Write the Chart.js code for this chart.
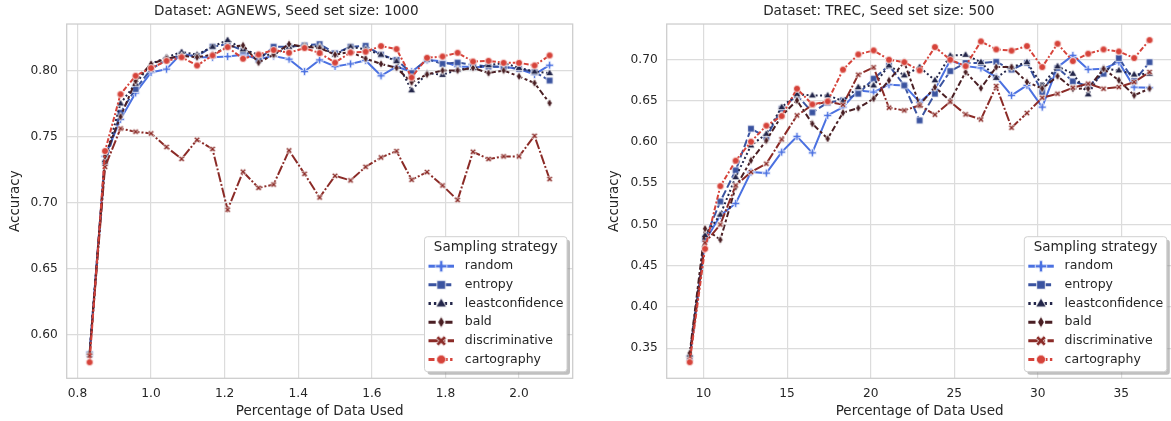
<!DOCTYPE html>
<html><head><meta charset="utf-8">
<script src="https://cdn.jsdelivr.net/npm/chart.js@4.4.1/dist/chart.umd.min.js"></script>
<style>
html,body{margin:0;padding:0;background:#fff;overflow:hidden;width:1171px;height:421px;}
#w1{position:absolute;left:0;top:0;width:585px;height:421px;}
#w2{position:absolute;left:585px;top:0;width:600px;height:421px;}
</style></head><body>
<div id="w1"><canvas id="c1" width="585" height="421"></canvas></div>
<div id="w2"><canvas id="c2" width="600" height="421"></canvas></div>
<script>
// ---------- DATA ----------
const seriesNames = ['random','entropy','leastconfidence','bald','discriminative','cartography'];

// AGNEWS, seed 1000 : percentage of data used
const agnewsX = [0.833,0.875,0.917,0.958,1.000,1.042,1.083,1.125,1.167,1.208,1.250,1.292,1.333,1.375,1.417,1.458,1.500,1.542,1.583,1.625,1.667,1.708,1.750,1.792,1.833,1.875,1.917,1.958,2.000,2.042,2.083];
const agnewsRandom = [0.586,0.735,0.763,0.783,0.7985,0.801,0.813,0.810,0.810,0.8106,0.812,0.8086,0.811,0.8086,0.7992,0.808,0.803,0.805,0.8076,0.796,0.803,0.799,0.808,0.807,0.803,0.8026,0.8026,0.803,0.801,0.797,0.804];
const agnewsEntropy = [0.585,0.730,0.768,0.786,0.801,0.808,0.812,0.811,0.818,0.820,0.815,0.808,0.818,0.818,0.819,0.820,0.813,0.818,0.8187,0.812,0.808,0.798,0.8086,0.805,0.806,0.8043,0.803,0.8026,0.8013,0.7988,0.7924];
const agnewsLeastconf = [0.586,0.732,0.775,0.790,0.805,0.810,0.814,0.812,0.818,0.823,0.816,0.812,0.812,0.818,0.819,0.818,0.812,0.818,0.816,0.812,0.807,0.785,0.798,0.7967,0.8005,0.8018,0.804,0.8056,0.802,0.7992,0.798];
const agnewsBald = [0.585,0.735,0.765,0.792,0.805,0.809,0.811,0.810,0.812,0.818,0.819,0.806,0.812,0.820,0.818,0.817,0.812,0.814,0.809,0.805,0.802,0.791,0.797,0.800,0.800,0.802,0.798,0.800,0.7955,0.7905,0.7753];
const agnewsDiscrim = [0.584,0.727,0.756,0.7536,0.7523,0.742,0.733,0.7475,0.7405,0.6945,0.7233,0.7111,0.7136,0.7394,0.7217,0.7038,0.7202,0.7167,0.727,0.7341,0.7389,0.7172,0.723,0.7129,0.7018,0.7384,0.7329,0.7349,0.7349,0.7505,0.7177];
const agnewsCarto = [0.579,0.739,0.782,0.796,0.8018,0.8073,0.810,0.8038,0.8114,0.8177,0.8089,0.8121,0.8155,0.8134,0.817,0.8132,0.806,0.8136,0.8142,0.8185,0.8162,0.7947,0.8096,0.8106,0.8134,0.8068,0.8073,0.8058,0.8058,0.8038,0.8114];

// TREC, seed 500 : percentage of data used
const trecX = [9.171,10.088,11.005,11.922,12.839,13.756,14.674,15.591,16.508,17.425,18.342,19.259,20.176,21.093,22.010,22.927,23.845,24.762,25.679,26.596,27.513,28.430,29.347,30.264,31.181,32.098,33.015,33.933,34.850,35.767,36.684];
const trecRandom = [0.340,0.480,0.511,0.5256,0.5636,0.5624,0.5879,0.6069,0.587,0.6324,0.6425,0.6627,0.6607,0.6697,0.6688,0.6485,0.664,0.6992,0.6922,0.690,0.6789,0.6567,0.6688,0.6425,0.691,0.7052,0.6882,0.689,0.697,0.6667,0.666];
const trecEntropy = [0.338,0.483,0.528,0.5657,0.6163,0.606,0.6405,0.657,0.636,0.648,0.6506,0.6587,0.677,0.693,0.6688,0.6263,0.6587,0.6862,0.696,0.696,0.6975,0.688,0.6963,0.6607,0.690,0.6737,0.668,0.683,0.702,0.674,0.697];
const trecLeastconf = [0.342,0.487,0.512,0.5575,0.596,0.610,0.6425,0.658,0.6567,0.6567,0.650,0.6667,0.6688,0.693,0.681,0.691,0.675,0.705,0.706,0.697,0.678,0.691,0.697,0.669,0.692,0.683,0.658,0.689,0.687,0.682,0.683];
const trecBald = [0.344,0.495,0.4815,0.5454,0.5778,0.602,0.632,0.6506,0.6223,0.6041,0.6357,0.6413,0.6527,0.6749,0.697,0.645,0.6667,0.650,0.685,0.6655,0.691,0.691,0.673,0.665,0.680,0.6648,0.665,0.689,0.675,0.6567,0.665];
const trecDiscrim = [0.336,0.478,0.500,0.5475,0.5636,0.5738,0.6033,0.6324,0.645,0.649,0.6454,0.6818,0.6907,0.6417,0.6385,0.6445,0.6333,0.649,0.6336,0.6275,0.668,0.6175,0.6352,0.6539,0.6587,0.666,0.6709,0.6648,0.6668,0.6728,0.685];
const trecCarto = [0.333,0.4706,0.5466,0.5774,0.6005,0.620,0.6316,0.6648,0.6458,0.6494,0.6879,0.7064,0.7113,0.700,0.697,0.687,0.7153,0.700,0.6922,0.7222,0.7125,0.711,0.7165,0.691,0.7194,0.6983,0.7073,0.7125,0.710,0.702,0.7238];

// ---------- STYLE ----------
Chart.defaults.font.family = '"DejaVu Sans", sans-serif';
Chart.defaults.color = '#262626';
const TXT = '#262626';
const COLORS = ['#4b71e1','#3a53a0','#23264a','#4a1f24','#8b2b27','#d6433a'];
const DASHES = [[], [8,3], [2,2.5], [6,2.5,3,2.5], [10,2,2,2], [5,2,2,2]];
const orders = [5,4,3,2,1,0];

// marker images (seaborn-like filled markers with a thin white edge)
function markerCanvas(kind, color, s){
  const size = Math.ceil(12*s)+2;
  const c = document.createElement('canvas');
  c.width = size; c.height = size;
  const g = c.getContext('2d');
  g.translate(size/2, size/2);
  g.beginPath();
  if (kind==='plus' || kind==='x'){
    if (kind==='x') g.rotate(Math.PI/4);
    const a = (kind==='x'?4.3:4.4)*s, b = (kind==='x'?1.3:1.3)*s;
    g.moveTo(-b,-a); g.lineTo(b,-a); g.lineTo(b,-b); g.lineTo(a,-b); g.lineTo(a,b); g.lineTo(b,b);
    g.lineTo(b,a); g.lineTo(-b,a); g.lineTo(-b,b); g.lineTo(-a,b); g.lineTo(-a,-b); g.lineTo(-b,-b); g.closePath();
  } else if (kind==='square'){
    const a=3.3*s; g.rect(-a,-a,2*a,2*a);
  } else if (kind==='tri'){
    const a=4.3*s; g.moveTo(0,-a); g.lineTo(a*0.95,a*0.6); g.lineTo(-a*0.95,a*0.6); g.closePath();
  } else if (kind==='diamond'){
    const w=2.6*s, h=4.4*s; g.moveTo(0,-h); g.lineTo(w,0); g.lineTo(0,h); g.lineTo(-w,0); g.closePath();
  } else if (kind==='circle'){
    g.arc(0,0,3.5*s,0,Math.PI*2);
  }
  g.fillStyle = color; g.fill();
  g.strokeStyle = '#ffffff'; g.lineWidth = 0.8; g.stroke();
  return c;
}
const KINDS = ['plus','square','tri','diamond','x','circle'];
const POINT_SCALE = [0.9,1,1,1,0.78,1];
const pointImgs = KINDS.map((k,i)=>markerCanvas(k, COLORS[i], POINT_SCALE[i]));
const legendImgs = KINDS.map((k,i)=>markerCanvas(k, COLORS[i], 1.3));

function roundRect(ctx,x,y,w,h,r){
  ctx.beginPath();
  ctx.moveTo(x+r,y); ctx.lineTo(x+w-r,y); ctx.quadraticCurveTo(x+w,y,x+w,y+r);
  ctx.lineTo(x+w,y+h-r); ctx.quadraticCurveTo(x+w,y+h,x+w-r,y+h);
  ctx.lineTo(x+r,y+h); ctx.quadraticCurveTo(x,y+h,x,y+h-r);
  ctx.lineTo(x,y+r); ctx.quadraticCurveTo(x,y,x+r,y); ctx.closePath();
}

const framePlugin = {
  id:'frame',
  beforeDatasetsDraw(chart){
    const {ctx, chartArea:a} = chart;
    ctx.save(); ctx.strokeStyle='#cccccc'; ctx.lineWidth=1.25;
    ctx.strokeRect(a.left, a.top, a.right-a.left, a.bottom-a.top); ctx.restore();
  }
};

const legendPlugin = {
  id:'boxLegend',
  afterDraw(chart){
    const {ctx, chartArea:a} = chart;
    const w=142.5, h=135;
    const x=a.right-5.7-w, y=a.bottom-6.6-h;
    ctx.save();
    roundRect(ctx,x+3,y+3,w,h,3); ctx.fillStyle='rgba(140,140,140,0.55)'; ctx.fill();
    roundRect(ctx,x,y,w,h,3); ctx.fillStyle='#ffffff'; ctx.fill();
    ctx.strokeStyle='#d0d0d0'; ctx.lineWidth=1; ctx.stroke();
    ctx.fillStyle=TXT; ctx.font='13.5px "DejaVu Sans"'; ctx.textAlign='center'; ctx.textBaseline='middle';
    ctx.fillText('Sampling strategy', x+w/2, y+10.8);
    chart.data.datasets.forEach((ds,i)=>{
      const yy = y+29.5+i*18.66;
      ctx.save(); ctx.strokeStyle=ds.borderColor; ctx.lineWidth=3; ctx.setLineDash(DASHES[i].map(v=>v*1.2));
      ctx.beginPath(); ctx.moveTo(x+4,yy); ctx.lineTo(x+29.5,yy); ctx.stroke(); ctx.restore();
      const im = legendImgs[i];
      ctx.drawImage(im, x+16.7-im.width/2, yy-im.height/2);
      ctx.fillStyle=TXT; ctx.font='12.5px "DejaVu Sans"'; ctx.textAlign='left'; ctx.textBaseline='middle';
      ctx.fillText(ds.label, x+40.3, yy);
    });
    ctx.restore();
  }
};

function makeChart(id, xs, series, cfg){
  const datasets = series.map((vals,i)=>({
    label: seriesNames[i],
    data: xs.map((x,j)=>({x:x, y:vals[j]})),
    borderColor: COLORS[i], borderWidth: 2, borderDash: DASHES[i],
    pointStyle: pointImgs[i], pointRadius: 4,
    backgroundColor: COLORS[i],
    tension: 0, fill: false, order: orders[i]
  }));
  return new Chart(document.getElementById(id), {
    type:'line',
    data:{datasets},
    plugins:[framePlugin, legendPlugin],
    options:{
      responsive:false, animation:false, events:[],
      layout:{padding:{left:0,right:cfg.rightPad,top:0,bottom:0}},
      plugins:{
        legend:{display:false}, tooltip:{enabled:false},
        title:{display:true, text:cfg.title, color:TXT, font:{size:13.6, weight:'normal', family:'"DejaVu Sans"'}, padding:{top:3.4,bottom:4.3}}
      },
      scales:{
        x:{type:'linear', min:cfg.xmin, max:cfg.xmax,
          grid:{color:'#dcdcdc', lineWidth:1.2, drawTicks:false},
          border:{display:false},
          ticks:{stepSize:cfg.xstep, includeBounds:false, padding:8, color:TXT, font:{size:12.2},
            callback:(v)=>v.toFixed(cfg.xdec), maxRotation:0, autoSkip:false},
          title:{display:true, text:'Percentage of Data Used', color:TXT, font:{size:13.5}, padding:{top:0,bottom:1}},
          afterFit:(s)=>{s.height=42.7;}
        },
        y:{type:'linear', min:cfg.ymin, max:cfg.ymax,
          grid:{color:'#dcdcdc', lineWidth:1.2, drawTicks:false},
          border:{display:false},
          ticks:{stepSize:0.05, includeBounds:false, padding:9, color:TXT, font:{size:12.2},
            callback:(v)=>v.toFixed(2), autoSkip:false},
          title:{display:true, text:'Accuracy', color:TXT, font:{size:13.5}, padding:{top:cfg.yTitlePad,bottom:0}},
          afterFit:(s)=>{s.width=cfg.yWidth;}
        }
      }
    }
  });
}

makeChart('c1', agnewsX,
  [agnewsRandom, agnewsEntropy, agnewsLeastconf, agnewsBald, agnewsDiscrim, agnewsCarto],
  {title:'Dataset: AGNEWS, Seed set size: 1000', xmin:0.7708, xmax:2.1458, ymin:0.5668, ymax:0.8352,
   xstep:0.2, xdec:1, rightPad:12.3, yWidth:66.7, yTitlePad:7.3});

makeChart('c2', trecX,
  [trecRandom, trecEntropy, trecLeastconf, trecBald, trecDiscrim, trecCarto],
  {title:'Dataset: TREC, Seed set size: 500', xmin:7.795, xmax:38.06, ymin:0.3134, ymax:0.7433,
   xstep:5, xdec:0, rightPad:12.5, yWidth:81.7, yTitlePad:21.3});
</script>
</body></html>
